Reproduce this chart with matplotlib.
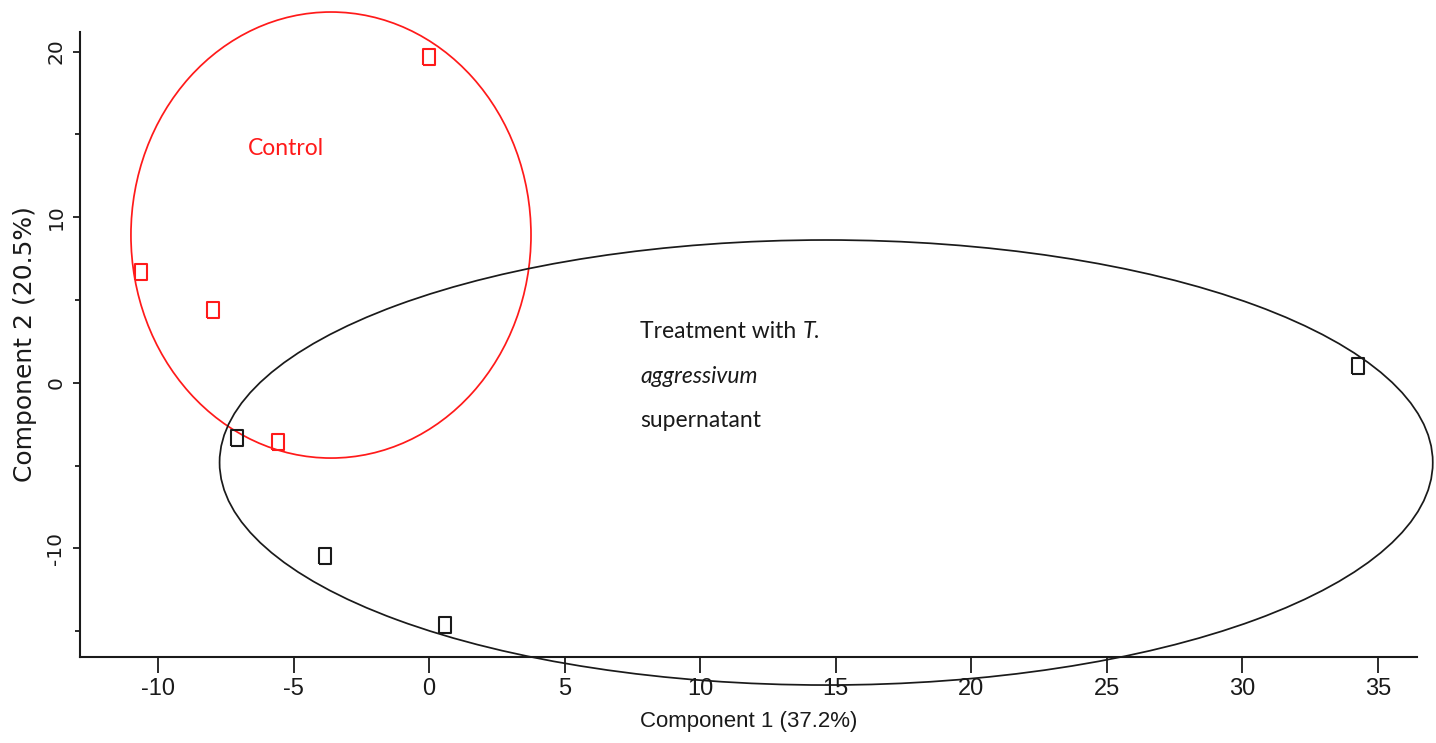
import matplotlib
matplotlib.use("Agg")
import matplotlib.pyplot as plt
from matplotlib import font_manager
from matplotlib.patches import Ellipse
from matplotlib.ticker import MultipleLocator

# PCA scores
control_x = [0.0, -10.63, -7.97, -5.57]
control_y = [19.67, 6.68, 4.38, -3.59]
treated_x = [-7.08, -3.84, 0.59, 34.27]
treated_y = [-3.34, -10.47, -14.64, 1.0]

# group ellipses: centre, full width, full height
control_ell = [(-3.62, 8.92), 14.76, 26.94]
treated_ell = [(14.65, -4.82), 44.76, 26.88]

x_label = "Component 1 (37.2%)"
y_label = "Component 2 (20.5%)"

plt.rcParams["axes.unicode_minus"] = False

names = {f.name for f in font_manager.fontManager.ttflist}
narrow = "Liberation Sans Narrow" if "Liberation Sans Narrow" in names else "Liberation Sans"
note_font = "Lato" if "Lato" in names else "DejaVu Sans"

RED = "#ff1a1a"
INK = "#1a1a1a"

fig = plt.figure(figsize=(14.36, 7.43), dpi=100)
ax = fig.add_axes([0.0557, 0.1161, 0.9311, 0.8412])

# tall rectangle marker
box = [(-0.7, -1), (0.7, -1), (0.7, 1), (-0.7, 1), (-0.7, -1)]

for (cx, cy), w, h, col in [(control_ell[0], control_ell[1], control_ell[2], RED),
                            (treated_ell[0], treated_ell[1], treated_ell[2], INK)]:
    e = Ellipse((cx, cy), w, h, fill=False, edgecolor=col, lw=1.25, clip_on=False, zorder=2)
    ax.add_patch(e)

ax.plot(control_x, control_y, ls="none", marker=box, ms=11.5, mfc="none",
        mec=RED, mew=1.5, zorder=3, clip_on=False)
ax.plot(treated_x, treated_y, ls="none", marker=box, ms=11.5, mfc="none",
        mec=INK, mew=1.5, zorder=3, clip_on=False)

ax.set_xlim(-12.88, 36.45)
ax.set_ylim(-16.55, 21.2)

for side in ["top", "right"]:
    ax.spines[side].set_visible(False)
for side in ["left", "bottom"]:
    ax.spines[side].set_linewidth(1.5)
    ax.spines[side].set_color(INK)

ax.xaxis.set_major_locator(MultipleLocator(5))
ax.yaxis.set_major_locator(MultipleLocator(10))
ax.yaxis.set_minor_locator(MultipleLocator(5))

ax.tick_params(axis="x", direction="out", length=11.5, width=1.3, color=INK,
               pad=3.5, labelsize=17, labelcolor=INK)
ax.tick_params(axis="y", which="major", direction="out", length=5, width=1.3,
               color=INK, pad=5.5, labelsize=14.5, labelcolor=INK, labelrotation=90)
ax.tick_params(axis="y", which="minor", direction="out", length=3.6, width=1.3, color=INK)

for lab in ax.get_xticklabels():
    lab.set_fontfamily(narrow)
for lab in ax.get_yticklabels():
    lab.set_va("center")
    lab.set_fontfamily("DejaVu Sans")

ax.set_xlabel(x_label, fontsize=16, fontfamily=narrow, color=INK, labelpad=8)
ax.set_ylabel(y_label, fontsize=18, fontfamily="DejaVu Sans", color=INK, labelpad=7)

# group labels
ax.text(-6.68, 13.75, "Control", color=RED, fontsize=16.5, fontfamily=note_font,
        va="baseline", ha="left")
t1 = ax.text(7.79, 2.70, "Treatment with ", color=INK, fontsize=16.5,
             fontfamily=note_font, va="baseline", ha="left")
ax.annotate("T.", xy=(1, 0), xycoords=t1, va="bottom", ha="left", color=INK,
            fontsize=16.5, fontfamily=note_font, fontstyle="italic")
ax.text(7.79, -0.02, "aggressivum", color=INK, fontsize=16.5, fontfamily=note_font,
        fontstyle="italic", va="baseline", ha="left")
ax.text(7.79, -2.67, "supernatant", color=INK, fontsize=16.5, fontfamily=note_font,
        va="baseline", ha="left")

fig.savefig("out.png", dpi=100)
